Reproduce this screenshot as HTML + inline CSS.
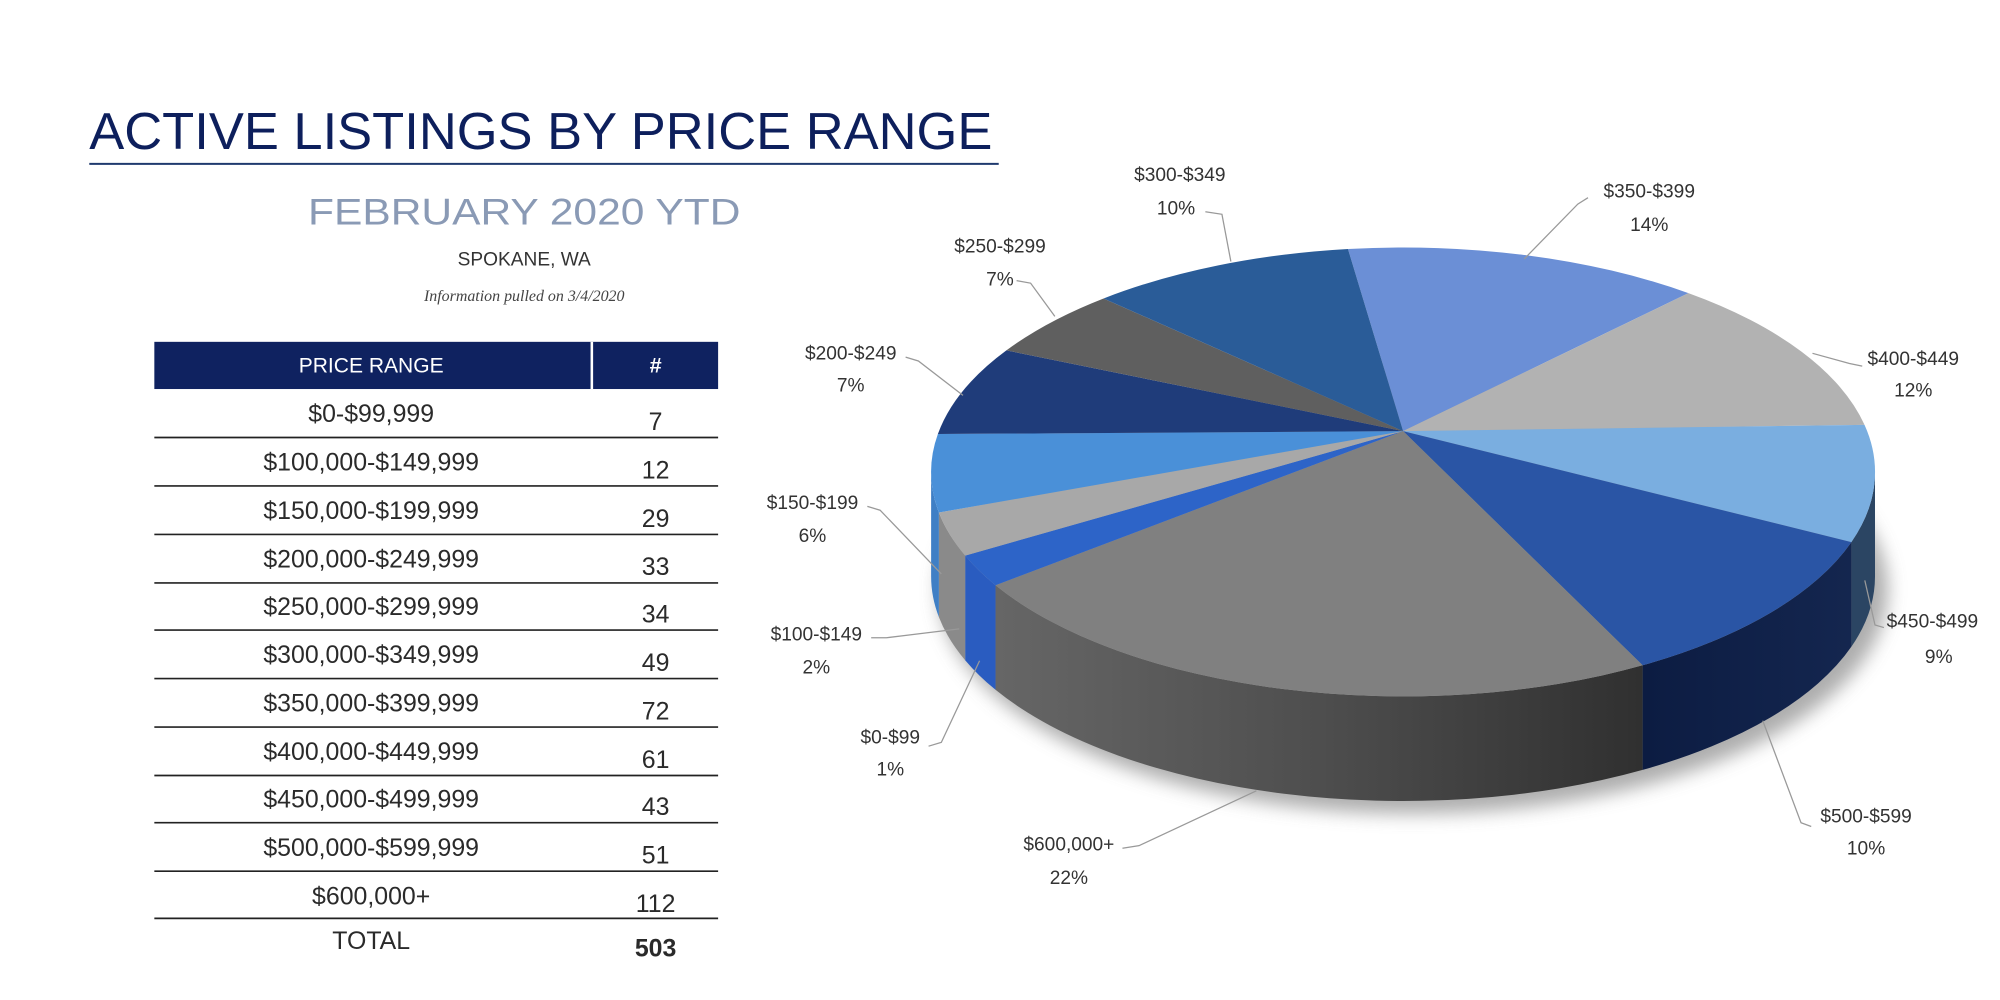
<!DOCTYPE html>
<html><head><meta charset="utf-8"><style>
html,body{margin:0;padding:0;background:#fff;width:2000px;height:1000px;overflow:hidden}
svg{display:block}
text{font-family:"Liberation Sans",sans-serif}
</style></head><body>
<svg width="2000" height="1000" viewBox="0 0 1568 784" xmlns="http://www.w3.org/2000/svg">
<defs>
<filter id="bl" x="-20%" y="-20%" width="140%" height="140%"><feGaussianBlur stdDeviation="7"/></filter>
<linearGradient id="g600" x1="0" x2="1" y1="0" y2="0"><stop offset="0" stop-color="#666"/><stop offset="0.5" stop-color="#4e4e4e"/><stop offset="1" stop-color="#303030"/></linearGradient>
<linearGradient id="g500" x1="0" x2="1"><stop offset="0" stop-color="#0c1c42"/><stop offset="1" stop-color="#14264f"/></linearGradient>
</defs>
<rect width="1568" height="784" fill="#fff"/>
<!-- left side -->
<text x="70" y="117" font-size="41" fill="#0d1f5c" textLength="708" lengthAdjust="spacingAndGlyphs">ACTIVE LISTINGS BY PRICE RANGE</text>
<line x1="70" y1="128.5" x2="783" y2="128.5" stroke="#1f3a6e" stroke-width="1.6"/>
<text x="411" y="176" font-size="29" fill="#8a9ab5" text-anchor="middle" textLength="339" lengthAdjust="spacingAndGlyphs">FEBRUARY 2020 YTD</text>
<text x="411" y="208" font-size="15" fill="#333" text-anchor="middle">SPOKANE, WA</text>
<text x="411" y="236" font-size="12.5" fill="#444" text-anchor="middle" font-style="italic" style="font-family:'Liberation Serif',serif">Information pulled on 3/4/2020</text>
<rect x="121" y="268" width="442" height="37" fill="#0f2260"/>
<rect x="463" y="268" width="2" height="37" fill="#fff"/>
<text x="291" y="292" font-size="16.5" fill="#fff" text-anchor="middle">PRICE RANGE</text>
<text x="514" y="292" font-size="17" fill="#fff" text-anchor="middle" font-weight="bold">#</text>
<g font-size="19.5" fill="#2a2a2a" text-anchor="middle">
<text x="291" y="331">$0-$99,999</text><text x="514" y="337">7</text>
<text x="291" y="369">$100,000-$149,999</text><text x="514" y="375">12</text>
<text x="291" y="407">$150,000-$199,999</text><text x="514" y="413">29</text>
<text x="291" y="445">$200,000-$249,999</text><text x="514" y="451">33</text>
<text x="291" y="482">$250,000-$299,999</text><text x="514" y="488">34</text>
<text x="291" y="520">$300,000-$349,999</text><text x="514" y="526">49</text>
<text x="291" y="558">$350,000-$399,999</text><text x="514" y="564">72</text>
<text x="291" y="596">$400,000-$449,999</text><text x="514" y="602">61</text>
<text x="291" y="633">$450,000-$499,999</text><text x="514" y="639">43</text>
<text x="291" y="671">$500,000-$599,999</text><text x="514" y="677">51</text>
<text x="291" y="709">$600,000+</text><text x="514" y="715">112</text>
<text x="291" y="744">TOTAL</text><text x="514" y="750" font-weight="bold">503</text>
</g>
<g stroke="#222" stroke-width="1.3">
<line x1="121" x2="563" y1="343" y2="343"/><line x1="121" x2="563" y1="381" y2="381"/>
<line x1="121" x2="563" y1="419" y2="419"/><line x1="121" x2="563" y1="457" y2="457"/>
<line x1="121" x2="563" y1="494" y2="494"/><line x1="121" x2="563" y1="532" y2="532"/>
<line x1="121" x2="563" y1="570" y2="570"/><line x1="121" x2="563" y1="608" y2="608"/>
<line x1="121" x2="563" y1="645" y2="645"/><line x1="121" x2="563" y1="683" y2="683"/>
<line x1="121" x2="563" y1="720" y2="720"/>
</g>
<!-- pie shadow -->
<ellipse cx="1108" cy="462" rx="372" ry="176" fill="#999" filter="url(#bl)" opacity="0.8"/>
<!-- side walls -->
<path d="M1470,370 A370 176 0 0 1 1451.5,425 L1451.5,507 A370 176 0 0 0 1470,452 Z" fill="#2b4563"/>
<path d="M1451.5,425 A370 176 0 0 1 1287.8,521.6 L1287.8,603.6 A370 176 0 0 0 1451.5,507 Z" fill="url(#g500)"/>
<path d="M1287.8,521.6 A370 176 0 0 1 780.5,458.8 L780.5,540.8 A370 176 0 0 0 1287.8,603.6 Z" fill="url(#g600)"/>
<path d="M780.5,458.8 A370 176 0 0 1 756.7,435.6 L756.7,517.6 A370 176 0 0 0 780.5,540.8 Z" fill="#2a5cc0"/>
<path d="M756.7,435.6 A370 176 0 0 1 736.1,401.8 L736.1,483.8 A370 176 0 0 0 756.7,517.6 Z" fill="#8a8a8a"/>
<path d="M736.1,401.8 A370 176 0 0 1 730,370 L730,452 A370 176 0 0 0 736.1,483.8 Z" fill="#3f7fc5"/>
<!-- top slices -->
<g>
<path d="M1100,338 L1056.8,195.2 A370 176 0 0 1 1323.7,229.8 Z" fill="#6b8fd6"/>
<path d="M1100,338 L1323.7,229.8 A370 176 0 0 1 1461.8,333.1 Z" fill="#b2b2b2"/>
<path d="M1100,338 L1461.8,333.1 A370 176 0 0 1 1451.5,425 Z" fill="#7aaee0"/>
<path d="M1100,338 L1451.5,425 A370 176 0 0 1 1287.8,521.6 Z" fill="#2a55a5"/>
<path d="M1100,338 L1287.8,521.6 A370 176 0 0 1 780.5,458.8 Z" fill="#808080"/>
<path d="M1100,338 L780.5,458.8 A370 176 0 0 1 756.7,435.6 Z" fill="#2d64c8"/>
<path d="M1100,338 L756.7,435.6 A370 176 0 0 1 736.1,401.8 Z" fill="#a8a8a8"/>
<path d="M1100,338 L736.1,401.8 A370 176 0 0 1 735.3,340.3 Z" fill="#4a90d8"/>
<path d="M1100,338 L735.3,340.3 A370 176 0 0 1 789,274.7 Z" fill="#1f3c7a"/>
<path d="M1100,338 L789,274.7 A370 176 0 0 1 865.2,234 Z" fill="#5f5f5f"/>
<path d="M1100,338 L865.2,234 A370 176 0 0 1 1056.8,195.2 Z" fill="#2a5c98"/>
</g>
<!-- leaders -->
<g stroke="#999" stroke-width="1" fill="none">
<polyline points="945,166 958,168 965,205"/>
<polyline points="1245,155 1237,160 1195,203"/>
<polyline points="797,220 808,222 827,248"/>
<polyline points="710,280 720,283 755,310"/>
<polyline points="1460,287 1450,285 1421,277"/>
<polyline points="680,397 690,400 738,450"/>
<polyline points="1477,492 1470,490 1462,455"/>
<polyline points="683,500 695,500 752,493"/>
<polyline points="728,585 738,582 768,518"/>
<polyline points="1420,648 1412,645 1382,565"/>
<polyline points="880,665 893,663 985,620"/>
</g>
<g font-size="15" fill="#333" text-anchor="middle">
<text x="925" y="142">$300-$349</text><text x="922" y="168">10%</text>
<text x="1293" y="155">$350-$399</text><text x="1293" y="181">14%</text>
<text x="784" y="198">$250-$299</text><text x="784" y="224">7%</text>
<text x="667" y="282">$200-$249</text><text x="667" y="307">7%</text>
<text x="1500" y="286">$400-$449</text><text x="1500" y="311">12%</text>
<text x="637" y="399">$150-$199</text><text x="637" y="425">6%</text>
<text x="1515" y="492">$450-$499</text><text x="1520" y="520">9%</text>
<text x="640" y="502">$100-$149</text><text x="640" y="528">2%</text>
<text x="698" y="583">$0-$99</text><text x="698" y="608">1%</text>
<text x="1463" y="645">$500-$599</text><text x="1463" y="670">10%</text>
<text x="838" y="667">$600,000+</text><text x="838" y="693">22%</text>
</g>
</svg>
</body></html>
